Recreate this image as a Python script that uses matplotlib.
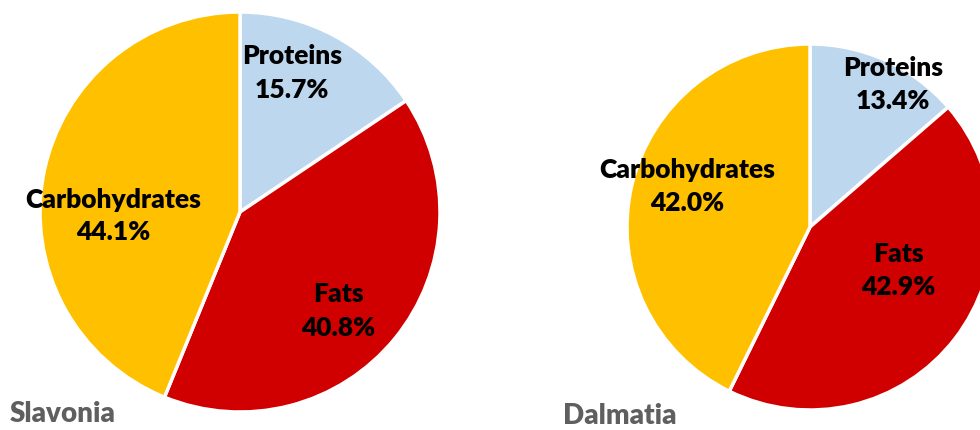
import matplotlib
matplotlib.use("Agg")
import matplotlib.pyplot as plt

categories = ["Proteins", "Fats", "Carbohydrates"]
slavonia = [15.7, 40.8, 44.1]
dalmatia = [13.4, 42.9, 42.0]
colors = ["#BDD7EE", "#D00000", "#FFC000"]

W, H = 980, 430
fig = plt.figure(figsize=(W/100, H/100), dpi=100)
FONT = ["Lato", "DejaVu Sans"]

def make_pie(box, values, label_pos, title, title_xy):
    ax = fig.add_axes([box[0]/W, box[1]/H, box[2]/W, box[3]/H])
    ax.pie(values, colors=colors, startangle=90, counterclock=False, radius=1.0,
           wedgeprops=dict(edgecolor="white", linewidth=2.5))
    ax.set_xlim(-1, 1); ax.set_ylim(-1, 1)
    ax.set_aspect("equal"); ax.axis("off")
    for cat, v, (dx, dy) in zip(categories, values, label_pos):
        ax.text(dx, dy, f"{cat}\n{v:.1f}%", ha="center", va="center",
                fontsize=19, fontweight="heavy", family=FONT, color="black",
                linespacing=1.45)
    fig.text(title_xy[0]/W, 1 - title_xy[1]/H, title, ha="left", va="baseline",
             fontsize=20, fontweight="heavy", family=FONT, color="#5f5f5f")

make_pie((40, 18, 400, 400), slavonia,
         [(0.26, 0.695), (0.49, -0.495), (-0.635, -0.02)], "Slavonia", (10, 422))
make_pie((627, 20, 366, 366), dalmatia,
         [(0.454, 0.776), (0.481, -0.240), (-0.672, 0.224)], "Dalmatia", (563, 424))

fig.savefig("out.png", dpi=100)
